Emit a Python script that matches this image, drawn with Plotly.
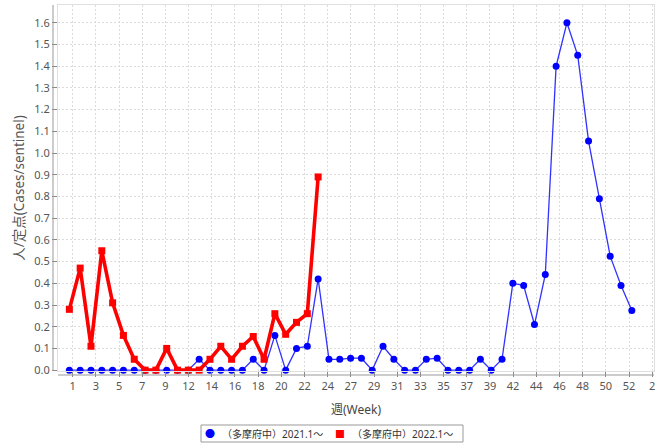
import plotly.graph_objects as go

# ---- data ----
weeks_2021 = list(range(1, 54))
values_2021 = [0, 0, 0, 0, 0, 0, 0, 0, 0, 0, 0, 0, 0.05, 0, 0, 0, 0, 0.05, 0, 0.16,
               0, 0.10, 0.11, 0.42, 0.05, 0.05, 0.055, 0.055, 0, 0.11, 0.05, 0, 0, 0.05, 0.055,
               0, 0, 0, 0.05, 0, 0.05, 0.40, 0.39, 0.21, 0.44, 1.40, 1.60, 1.45, 1.055,
               0.79, 0.525, 0.39, 0.275]
weeks_2022 = list(range(1, 25))
values_2022 = [0.28, 0.47, 0.11, 0.55, 0.31, 0.16, 0.05, 0, 0, 0.10, 0, 0, 0, 0.05,
               0.11, 0.05, 0.11, 0.155, 0.05, 0.26, 0.165, 0.22, 0.26, 0.89]
tick_labels = ["1", "3", "5", "7", "9", "12", "14", "16", "18", "20", "22", "24", "27",
               "29", "31", "33", "35", "37", "39", "42", "44", "46", "48", "50", "52", "2"]
series_names = ["（多摩府中）2021.1～", "（多摩府中）2022.1～"]

# tick every 15 days, expressed in week units
first_tick = 1.31
tick_vals = [first_tick + k * 15 / 7 for k in range(len(tick_labels))]

font_family = "Noto Sans, Noto Sans CJK JP, sans-serif"
blue = "#0000ff"
red = "#ff0000"

fig = go.Figure()
fig.add_trace(go.Scatter(x=weeks_2021, y=values_2021, mode="lines+markers",
                         name=series_names[0],
                         line=dict(color="rgb(50,50,255)", width=1.3),
                         marker=dict(color=blue, size=7, symbol="circle"),
                         showlegend=False, cliponaxis=False))
fig.add_trace(go.Scatter(x=weeks_2022, y=values_2022, mode="lines+markers",
                         name=series_names[1],
                         line=dict(color=red, width=3.6),
                         marker=dict(color=red, size=7, symbol="square"),
                         showlegend=False, cliponaxis=False))

L, R, T, B = 58, 12, 5, 72
W, H = 666, 443
plot_w = W - L - R
plot_h = H - T - B
plot_bottom = H - B


def px(xpix):
    return (xpix - L) / plot_w


def py(ypix):
    return (plot_bottom - ypix) / plot_h


# legend box (drawn by hand so it matches the compact reference legend)
leg_top, leg_bot = 425, 442
leg_mid = (leg_top + leg_bot) / 2
shapes = [
    dict(type="line", xref="paper", yref="paper", x0=-5 / plot_w, x1=-5 / plot_w,
         y0=0, y1=1, line=dict(color="#999", width=1)),
    dict(type="line", xref="paper", yref="paper", x0=0, x1=1,
         y0=-4 / plot_h, y1=-4 / plot_h, line=dict(color="#999", width=1)),
    dict(type="rect", xref="paper", yref="paper", x0=px(201), x1=px(463),
         y0=py(leg_bot), y1=py(leg_top), line=dict(color="#999", width=1),
         fillcolor="white"),
]
annotations = []
legend_items = [(210, "●", blue, series_names[0]), (340, "■", red, series_names[1])]
for xpix, sym, col, name in legend_items:
    annotations.append(dict(xref="paper", yref="paper", x=px(xpix), y=py(leg_mid),
                            text=sym, showarrow=False, xanchor="center", yanchor="middle",
                            font=dict(size=10, color=col)))
    annotations.append(dict(xref="paper", yref="paper", x=px(xpix + 10), y=py(leg_mid),
                            text=name, showarrow=False, xanchor="left", yanchor="middle",
                            font=dict(size=10, color="#333")))

fig.update_layout(
    width=W, height=H,
    margin=dict(l=L, r=R, t=T, b=B, autoexpand=False),
    paper_bgcolor="white", plot_bgcolor="white",
    font=dict(family=font_family, size=11, color="#444"),
    showlegend=False,
    xaxis=dict(range=[-0.05, 55.05], tickmode="array", tickvals=tick_vals,
               ticktext=tick_labels, ticks="outside", ticklen=5, tickcolor="#888",
               showgrid=True, gridcolor="#dcdcdc", griddash="2px,2px", gridwidth=1,
               zeroline=False, showline=True, linecolor="#e0e0e0", mirror=True,
               automargin=False,
               tickfont=dict(size=11, color="#555"),
               title=dict(text="週(Week)", font=dict(size=12, color="#444"), standoff=13)),
    yaxis=dict(range=[-0.004, 1.682], tickmode="array",
               tickvals=[i / 10 for i in range(17)],
               ticktext=[f"{i / 10:.1f}" for i in range(17)],
               ticks="outside", ticklen=5, tickcolor="#888",
               showgrid=True, gridcolor="#dcdcdc", griddash="2px,2px", gridwidth=1,
               zeroline=False, showline=True, linecolor="#e0e0e0", mirror=True,
               automargin=False,
               tickfont=dict(size=11, color="#555"),
               title=dict(text="人/定点(Cases/sentinel)", font=dict(size=13.5, color="#555"),
                          standoff=6)),
    shapes=shapes,
    annotations=annotations,
)

fig.write_html("out.html", config={"displayModeBar": False},
               post_script="document.body.style.margin='0';")
